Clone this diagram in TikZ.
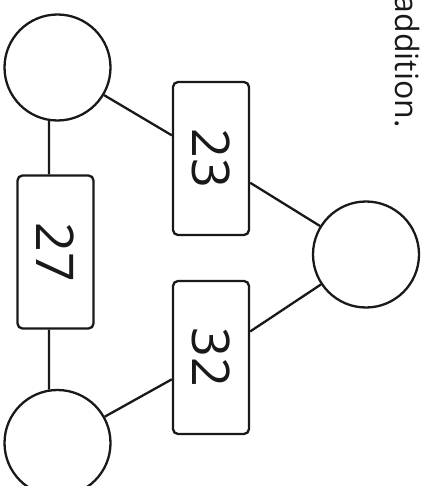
\documentclass[tikz,border=0pt]{standalone}
\usepackage{fontspec}
\setmainfont{Open Sans}
\begin{document}
\begin{tikzpicture}[x=1pt,y=-1pt,
  lw/.style={line width=2.3pt, draw=black!90},
  ring/.style={lw, circle, minimum size=106pt, inner sep=0pt},
  numbox/.style={lw, rectangle, rounded corners=5pt, minimum width=76pt, minimum height=153pt, inner sep=0pt},
  numtxt/.style={rotate=-90, font=\fontsize{52}{52}\selectfont, text=black!90},
  link/.style={lw}]
\useasboundingbox (0,0) rectangle (425,486);
\node[ring] (c1) at (57.5,67.5) {};
\node[ring] (c2) at (366,254.5) {};
\node[ring] (c3) at (57.5,443) {};
\node[numbox] (b23) at (211,158.5) {};
\node[numbox] (b27) at (55.5,252) {};
\node[numbox] (b32) at (211,357.5) {};
\node[numtxt] (t23) at (b23.center) {23};
\node[numtxt] (t27) at (b27.center) {27};
\node[numtxt] (t32) at (b32.center) {32};
\draw[link] (c1) -- (b23);
\draw[link] (b23) -- (c2);
\draw[link] (b32) -- (c2);
\draw[link] (b32) -- (c3);
\draw[link] ([xshift=-6.5pt]b27.north) -- (c1.-99);
\draw[link] ([xshift=-6.5pt]b27.south) -- (c3.99);
\node[rotate=-90, anchor=base east, inner sep=0pt, font=\fontsize{32}{32}\selectfont, text=black!90] (title) at (395,128) {addition.};
\end{tikzpicture}
\end{document}
